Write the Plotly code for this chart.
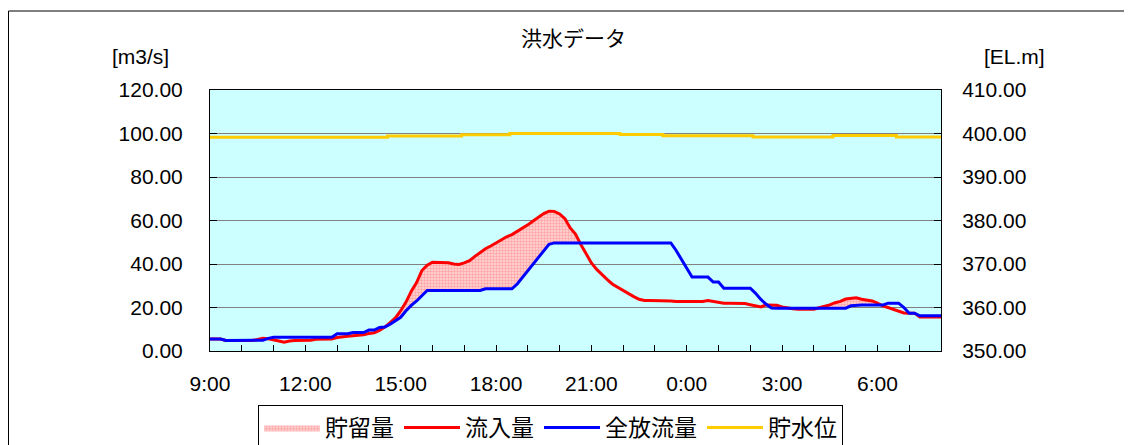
import plotly.graph_objects as go
import pandas as pd

# ---- data (10-minute readings from 9:00 to 8:00 next day) ----
inflow = [5.5, 5.5, 5.5, 4.8, 4.8, 4.8, 4.8, 4.8, 4.8, 5.3,
          5.9, 5.6, 5.2, 4.6, 4.0, 4.6, 4.8, 4.8, 4.8, 5.0,
          5.4, 5.4, 5.4, 5.5, 6.2, 6.6, 6.8, 7.0, 7.1, 7.5,
          8.0, 8.4, 9.5, 11.0, 13.0, 15.2, 18.5, 22.5, 27.5, 31.5,
          37.0, 39.5, 40.8, 40.8, 40.8, 40.6, 40.0, 39.8, 40.5, 41.5,
          43.5, 45.3, 47.0, 48.3, 49.7, 51.0, 52.5, 53.5, 55.0, 56.3,
          58.0, 59.8, 61.5, 63.2, 64.3, 64.2, 63.0, 60.8, 56.6, 53.8,
          49.0, 44.5, 40.5, 37.5, 35.0, 32.8, 30.7, 29.2, 28.0, 26.3,
          25.0, 23.8, 23.2, 23.2, 23.2, 23.2, 23.2, 23.0, 22.8, 22.8,
          22.8, 22.8, 22.8, 22.8, 23.2, 22.8, 22.5, 22.0, 22.0, 22.0,
          22.0, 21.8, 21.3, 20.8, 20.3, 21.2, 21.2, 21.0, 20.3, 19.7,
          19.4, 19.2, 19.2, 19.2, 19.2, 19.9, 20.5, 21.2, 22.2, 22.8,
          23.9, 24.3, 24.5, 23.8, 23.3, 23.0, 22.0, 20.8, 20.0, 19.2,
          18.2, 17.5, 17.4, 17.4, 15.6, 15.6, 15.6, 15.6, 15.6]

outflow = [5.5, 5.5, 5.5, 4.8, 4.8, 4.8, 4.8, 4.8, 4.8, 4.8,
           5.0, 5.8, 6.3, 6.3, 6.3, 6.3, 6.3, 6.3, 6.3, 6.3,
           6.3, 6.3, 6.3, 6.3, 7.9, 7.9, 7.9, 8.5, 8.5, 8.5,
           9.6, 9.6, 10.8, 11.0, 12.3, 13.8, 15.5, 18.5, 21.0, 23.0,
           25.3, 27.8, 27.8, 27.8, 27.8, 27.8, 27.8, 27.8, 27.8, 27.8,
           27.8, 27.8, 28.6, 28.6, 28.6, 28.6, 28.6, 28.6, 30.8, 33.9,
           36.9, 40.0, 43.0, 46.1, 49.1, 49.7, 49.7, 49.7, 49.7, 49.7,
           49.7, 49.7, 49.7, 49.7, 49.7, 49.7, 49.7, 49.7, 49.7, 49.7,
           49.7, 49.7, 49.7, 49.7, 49.7, 49.7, 49.7, 49.7, 46.2, 42.0,
           37.9, 34.0, 34.0, 34.0, 34.0, 31.7, 31.7, 28.9, 28.9, 28.9,
           28.9, 28.9, 28.9, 26.5, 23.7, 21.5, 19.8, 19.7, 19.7, 19.7,
           19.7, 19.7, 19.7, 19.7, 19.7, 19.7, 19.7, 19.7, 19.7, 19.7,
           19.7, 20.8, 21.1, 21.1, 21.1, 21.1, 21.1, 21.1, 22.0, 22.0,
           22.0, 20.0, 17.4, 17.4, 16.2, 16.2, 16.2, 16.2, 16.2]

level_times = ["2021-07-01 09:00", "2021-07-01 14:35", "2021-07-01 16:55",
               "2021-07-01 18:26", "2021-07-01 21:54", "2021-07-01 23:15",
               "2021-07-02 02:05", "2021-07-02 04:36", "2021-07-02 06:36",
               "2021-07-02 08:00"]
level = [399.15, 399.45, 399.7, 400.0, 399.75, 399.5, 399.2, 399.55, 399.2, 399.2]

times = pd.date_range("2021-07-01 09:00", periods=len(inflow), freq="10min")
storage_top = [max(a, b) for a, b in zip(inflow, outflow)]

FONT = "Liberation Sans, Arial, Noto Sans CJK JP"
JFONT = "Noto Sans CJK JP, Liberation Sans"

fig = go.Figure()
fig.add_trace(go.Scatter(x=times, y=outflow, mode="lines", line=dict(width=0),
                         showlegend=False, hoverinfo="skip"))
fig.add_trace(go.Scatter(x=times, y=storage_top, mode="lines", line=dict(width=0),
                         fill="tonexty", fillcolor="#FFB8B8",
                         fillpattern=dict(shape=".", fgcolor="#FF7070", bgcolor="#FFD8D8",
                                          size=3, solidity=0.5),
                         name="貯留量", legendrank=1))
fig.add_trace(go.Scatter(x=times, y=inflow, mode="lines", line=dict(color="#FF0000", width=3),
                         name="流入量", legendrank=2))
fig.add_trace(go.Scatter(x=times, y=outflow, mode="lines", line=dict(color="#0000FF", width=3),
                         name="全放流量", legendrank=3))
fig.add_trace(go.Scatter(x=level_times, y=level, mode="lines", yaxis="y2",
                         line=dict(color="#FFCC00", width=3, shape="hv"),
                         name="貯水位", legendrank=4))

OFF = 8  # page body margin
W, H = 1132 - OFF, 445 - OFF
L, R, T, B = 210 - OFF, 941 - OFF, 90 - OFF, 351 - OFF
pw, ph = R - L, B - T

def px(xp):
    return (xp - OFF - L) / pw

def py(yp):
    return (B - (yp - OFF)) / ph

fig.update_layout(
    width=W, height=H,
    margin=dict(l=L, r=W - R, t=T, b=H - B, autoexpand=False),
    paper_bgcolor="white", plot_bgcolor="#CCFFFF",
    font=dict(family=FONT, size=21, color="black"),
    xaxis=dict(type="date", range=["2021-07-01 09:00", "2021-07-02 08:00"],
               tick0="2021-07-01 09:00", dtick=3 * 3600000, tickformat="%-H:%M",
               ticks="inside", ticklen=6, tickcolor="black",
               minor=dict(dtick=3600000, ticks="inside", ticklen=6, tickcolor="black", showgrid=False),
               showgrid=False, showline=True, linecolor="black", linewidth=1, mirror=True,
               ticklabelstandoff=14, tickfont=dict(size=21)),
    yaxis=dict(range=[0, 120], dtick=20, tickformat=".2f",
               ticks="inside", ticklen=7, tickcolor="black",
               showgrid=True, gridcolor="#808080", gridwidth=1,
               showline=True, linecolor="black", linewidth=1, zeroline=False,
               ticklabelstandoff=22, tickfont=dict(size=21)),
    yaxis2=dict(range=[350, 410], dtick=10, tickformat=".2f", overlaying="y", side="right",
                ticks="inside", ticklen=7, tickcolor="black", showgrid=False,
                showline=True, linecolor="black", linewidth=1, zeroline=False,
                ticklabelstandoff=16, tickfont=dict(size=21)),
    legend=dict(orientation="h", x=px(258), y=py(405), xanchor="left", yanchor="top",
                bgcolor="white", bordercolor="black", borderwidth=1, traceorder="normal",
                font=dict(family=JFONT, size=23), itemwidth=56, tracegroupgap=0),
    showlegend=True,
)

fig.add_annotation(text="洪水データ", xref="paper", yref="paper", x=px(573), y=py(37),
                   showarrow=False, font=dict(family=JFONT, size=21), xanchor="center", yanchor="middle")
fig.add_annotation(text="[m3/s]", xref="paper", yref="paper", x=px(140), y=py(56),
                   showarrow=False, font=dict(size=21), xanchor="center", yanchor="middle")
fig.add_annotation(text="[EL.m]", xref="paper", yref="paper", x=px(1014), y=py(56),
                   showarrow=False, font=dict(size=21), xanchor="center", yanchor="middle")

fig.add_shape(type="rect", xref="paper", yref="paper",
              x0=px(8.5), x1=px(1200), y0=py(500), y1=py(11),
              line=dict(color="black", width=1), fillcolor="rgba(0,0,0,0)", layer="below")

fig.write_html("out.html")
